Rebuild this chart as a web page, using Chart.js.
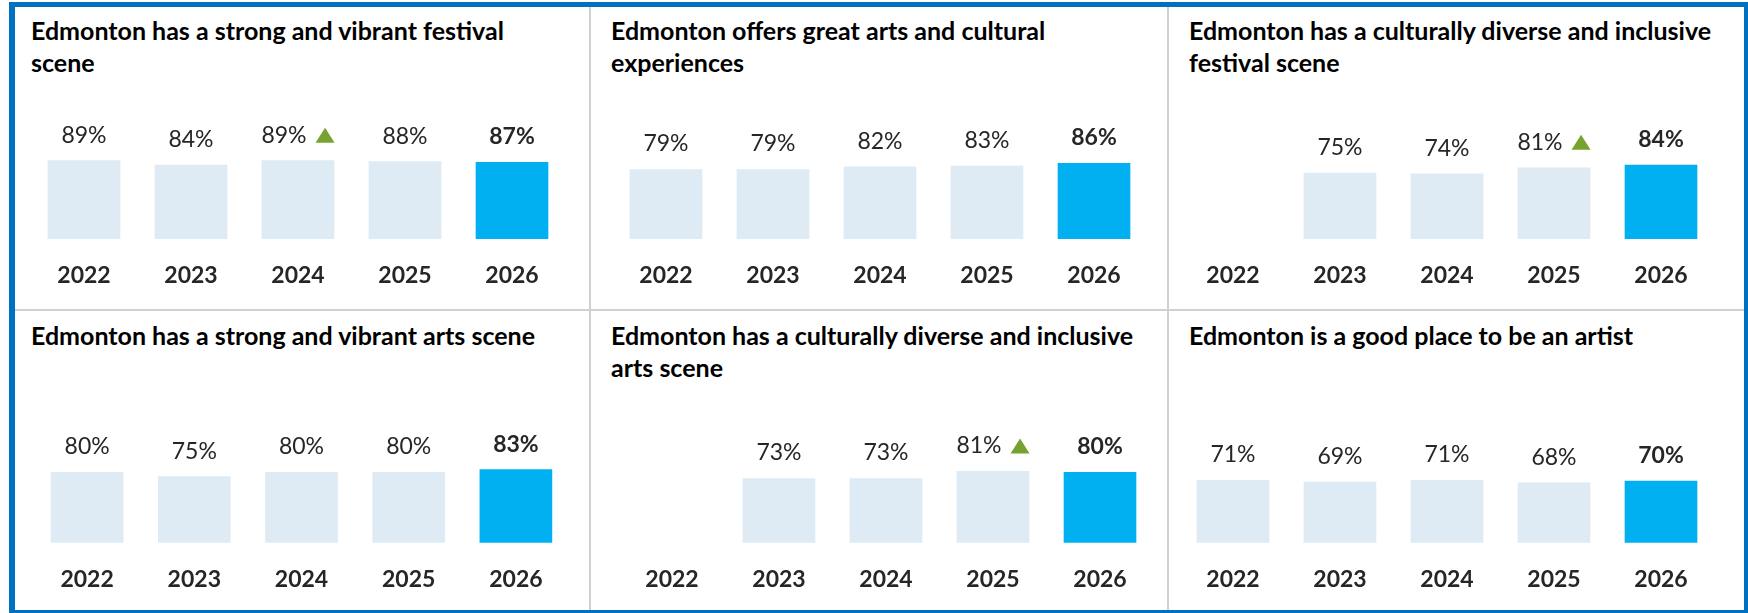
<!DOCTYPE html>
<html>
<head>
<meta charset="utf-8">
<script src="https://cdn.jsdelivr.net/npm/chart.js@4.4.1/dist/chart.umd.min.js"></script>
<style>
    html, body { margin: 0; padding: 0; background: #fff; }
    #wrap { position: relative; width: 1748px; height: 613px; overflow: hidden; background: #fff; font-family: Lato, sans-serif; }
    .frame { position: absolute; left: 9px; top: 2px; width: 1739px; height: 611px; box-sizing: border-box;
             border-style: solid; border-color: #0070C0; border-width: 5px 4px 3px 6px; }
    .vline { position: absolute; width: 2px; top: 7px; height: 603px; background: #D0D0D0; }
    .hline { position: absolute; height: 2px; left: 15px; width: 1729px; top: 309px; background: #D0D0D0; }
    .title { position: absolute; font-weight: bold; font-size: 25px; line-height: 32px; color: #000; white-space: nowrap; }
    .panel { position: absolute; }
</style>
</head>
<body>
<div id="wrap">
    <div class="frame"></div>
    <div class="vline" style="left:589px"></div>
    <div class="vline" style="left:1167px"></div>
    <div class="hline"></div>
</div>
<script>
// Data
const years = ['2022', '2023', '2024', '2025', '2026'];

const festivalScene    = [89, 84, 89, 88, 87];
const artsExperiences  = [79, 79, 82, 83, 86];
const diverseFestival  = [null, 75, 74, 81, 84];
const artsScene        = [80, 75, 80, 80, 83];
const diverseArts      = [null, 73, 73, 81, 80];
const goodPlaceArtist  = [71, 69, 71, 68, 70];

// significant increase markers (green triangle)
const festivalSceneUp   = [false, false, true, false, false];
const artsExperiencesUp = [false, false, false, false, false];
const diverseFestivalUp = [false, false, false, true, false];
const artsSceneUp       = [false, false, false, false, false];
const diverseArtsUp     = [false, false, false, true, false];
const goodPlaceArtistUp = [false, false, false, false, false];

const titles = [
    ['Edmonton has a strong and vibrant festival', 'scene'],
    ['Edmonton offers great arts and cultural', 'experiences'],
    ['Edmonton has a culturally diverse and inclusive', 'festival scene'],
    ['Edmonton has a strong and vibrant arts scene'],
    ['Edmonton has a culturally diverse and inclusive', 'arts scene'],
    ['Edmonton is a good place to be an artist']
];
const seriesList = [festivalScene, artsExperiences, diverseFestival, artsScene, diverseArts, goodPlaceArtist];
const upList = [festivalSceneUp, artsExperiencesUp, diverseFestivalUp, artsSceneUp, diverseArtsUp, goodPlaceArtistUp];
const currentIndex = 4;

// Panel placement
const panels = [
    { x: 15,   y: 7,   w: 574, h: 302, pl: 15.5, pr: 23.5, pt: 144,   pb: 20,   tx: 31,   ty: 14.3 },
    { x: 591,  y: 7,   w: 576, h: 302, pl: 21.5, pr: 19.5, pt: 144,   pb: 20,   tx: 611,  ty: 14.3 },
    { x: 1169, y: 7,   w: 575, h: 302, pl: 10.5, pr: 29.5, pt: 144,   pb: 20,   tx: 1189, ty: 14.3 },
    { x: 15,   y: 311, w: 574, h: 299, pl: 18.5, pr: 19.5, pt: 143.7, pb: 17.3, tx: 31,   ty: 319.3 },
    { x: 591,  y: 311, w: 576, h: 299, pl: 27.5, pr: 13.5, pt: 143.7, pb: 17.3, tx: 611,  ty: 319.3 },
    { x: 1169, y: 311, w: 575, h: 299, pl: 10.5, pr: 29.5, pt: 143.7, pb: 17.3, tx: 1189, ty: 319.3 }
];

// Labels above bars, with optional green triangle
const valueLabels = {
    id: 'valueLabels',
    afterDatasetsDraw(chart, args, opts) {
        const ctx = chart.ctx;
        const meta = chart.getDatasetMeta(0);
        const data = chart.data.datasets[0].data;
        meta.data.forEach(function(bar, i) {
            const v = data[i];
            if (v === null || v === undefined) return;
            ctx.save();
            ctx.font = (i === opts.current ? 'bold ' : '') + '23px Lato';
            ctx.fillStyle = '#262626';
            ctx.textBaseline = 'alphabetic';
            ctx.textAlign = 'left';
            const text = v + '%';
            const tw = ctx.measureText(text).width;
            const up = opts.up[i];
            const triW = 19, triH = 15, gap = 9;
            const total = up ? tw + gap + triW : tw;
            const left = bar.x - total / 2;
            const base = bar.y - 18;
            ctx.fillText(text, left, base);
            if (up) {
                const tx = left + tw + gap;
                ctx.fillStyle = '#78A22F';
                ctx.beginPath();
                ctx.moveTo(tx, base);
                ctx.lineTo(tx + triW, base);
                ctx.lineTo(tx + triW / 2, base - triH);
                ctx.closePath();
                ctx.fill();
            }
            ctx.restore();
        });
    }
};

Chart.defaults.font.family = 'Lato';

const wrap = document.getElementById('wrap');
panels.forEach(function(p, k) {
    const t = document.createElement('div');
    t.className = 'title';
    t.style.left = p.tx + 'px';
    t.style.top = p.ty + 'px';
    t.innerHTML = titles[k].join('<br>');
    wrap.appendChild(t);

    const box = document.createElement('div');
    box.className = 'panel';
    box.style.left = p.x + 'px';
    box.style.top = p.y + 'px';
    const canvas = document.createElement('canvas');
    canvas.width = p.w;
    canvas.height = p.h;
    box.appendChild(canvas);
    wrap.appendChild(box);

    const values = seriesList[k];
    new Chart(canvas.getContext('2d'), {
        type: 'bar',
        data: {
            labels: years,
            datasets: [{
                data: values,
                backgroundColor: values.map((v, i) => i === currentIndex ? '#00B0F0' : '#DEEBF5'),
                borderWidth: 0,
                barThickness: 72
            }]
        },
        options: {
            responsive: false,
            animation: false,
            layout: { padding: { left: p.pl, right: p.pr, top: p.pt, bottom: p.pb } },
            plugins: {
                legend: { display: false },
                tooltip: { enabled: false },
                valueLabels: { current: currentIndex, up: upList[k] }
            },
            scales: {
                x: {
                    grid: { display: false },
                    border: { display: false },
                    ticks: {
                        color: '#262626',
                        padding: 15,
                        font: { family: 'Lato', size: 23, weight: 'bold' }
                    },
                    afterFit: function(scale) { scale.height = 50; }
                },
                y: {
                    display: false,
                    min: 0,
                    max: 100
                }
            }
        },
        plugins: [valueLabels]
    });
});
</script>
</body>
</html>
